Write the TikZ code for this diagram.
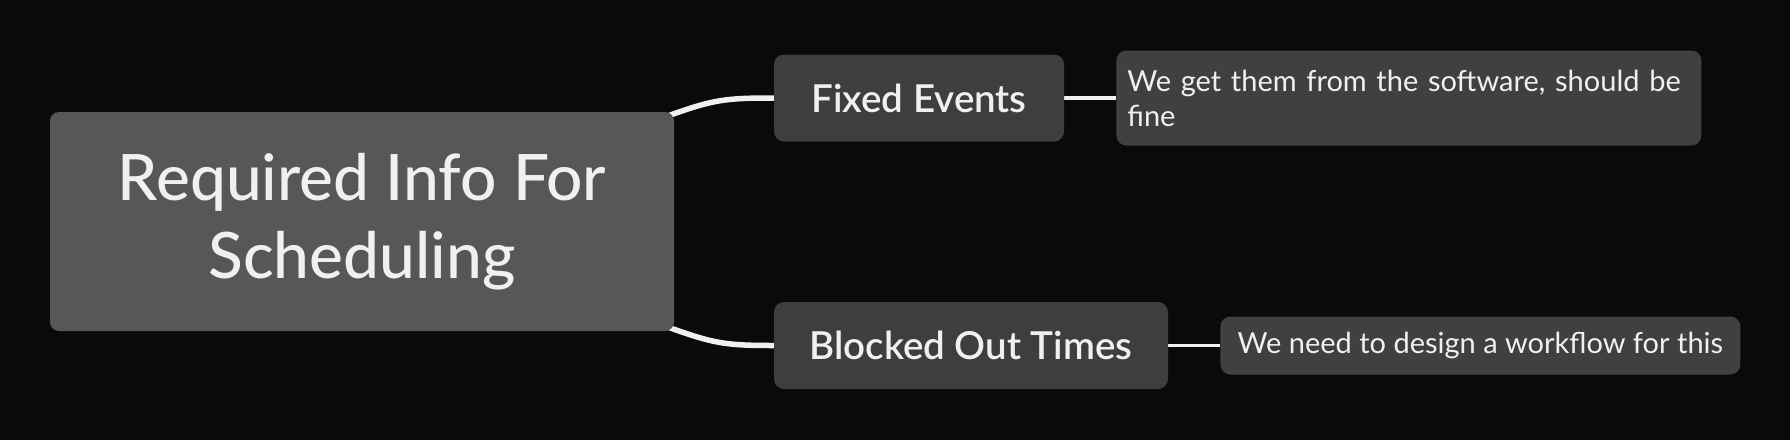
\documentclass[tikz,border=0pt]{standalone}
\usepackage{fontspec}
\setmainfont{Lato}
\newfontfamily\medfont{Lato Medium}
\newfontfamily\semifont{Lato Semibold}
\usetikzlibrary{positioning,backgrounds}

\tikzset{
  rootbox/.style={fill=mRoot,rounded corners=9pt,text=mText,align=center,
    minimum width=624pt,minimum height=219pt,inner sep=0pt,
    font=\medfont\fontsize{64}{78}\selectfont},
  topicbox/.style={fill=mTopic,rounded corners=10pt,text=mText,
    minimum height=87pt,inner sep=0pt,font=\semifont\fontsize{38.5}{44}\selectfont},
  notebox/.style={fill=mNote,rounded corners=10pt,text=mText,align=left,
    inner xsep=11pt,inner ysep=0pt,font=\fontsize{29}{35}\selectfont},
  branch/.style={draw=mLine,line width=5.5pt},
  twig/.style={draw=mLine,line width=3.5pt}
}

\begin{document}
\begin{tikzpicture}[x=1pt,y=-1pt,node distance=52pt]
  \definecolor{mBack}{HTML}{0A0A0A}
  \definecolor{mRoot}{HTML}{575757}
  \definecolor{mTopic}{HTML}{3E3E3E}
  \definecolor{mNote}{HTML}{404040}
  \definecolor{mText}{HTML}{F0F0F0}
  \definecolor{mLine}{HTML}{F0F0F0}

  \useasboundingbox (0,0) rectangle (1790,440);

  % main topic
  \node[rootbox,text depth=12pt] (root) at (362,221.5) {Required Info For\\Scheduling};

  % subtopics
  \node[topicbox,minimum width=290pt] (fixed) at (919,98) {Fixed Events};
  \node[topicbox,minimum width=394pt] (blocked) at (971,345.5) {Blocked Out Times};

  % notes
  \node[notebox,text width=563pt,minimum height=95pt,right=of fixed] (fixednote)
    {We get them from the software, should be\\fine};
  \node[notebox,minimum width=520pt,minimum height=58pt,right=of blocked] (blockednote)
    {We need to design a workflow for this};

  % connectors
  \begin{scope}[on background layer]
    \fill[mBack] (0,0) rectangle (1790,440);
    \draw[branch] ([shift={(-6,4)}]root.north east) .. controls +(45,-16) and +(-50,0) .. (fixed.west);
    \draw[branch] ([shift={(-6,-4)}]root.south east) .. controls +(45,16) and +(-50,0) .. (blocked.west);
    \draw[twig] (fixed.east) -- (fixednote.west);
    \draw[twig] (blocked.east) -- (blockednote.west);
  \end{scope}

\end{tikzpicture}
\end{document}
